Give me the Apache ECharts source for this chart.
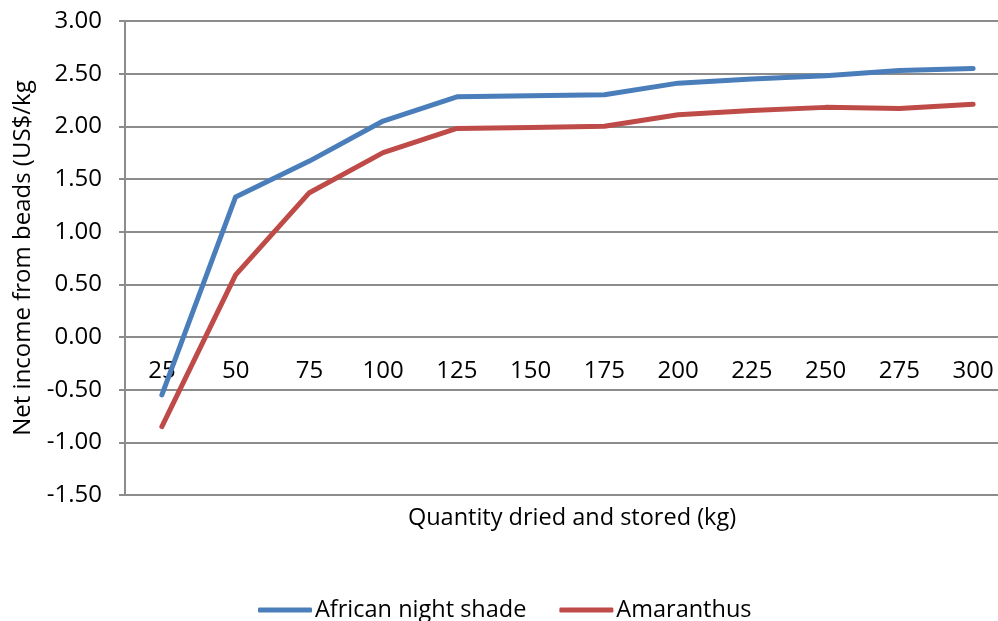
<!DOCTYPE html>
<html>
<head>
<meta charset="utf-8">
<script src="https://cdn.jsdelivr.net/npm/echarts@6/dist/echarts.min.js"></script>
<style>
html,body{margin:0;padding:0;background:#fff;}
#chart{width:998px;height:621px;}
</style>
</head>
<body>
<div id="chart"></div>
<script>
var categories = ['25','50','75','100','125','150','175','200','225','250','275','300'];
var africanNightShade = [-0.55, 1.33, 1.67, 2.05, 2.28, 2.29, 2.30, 2.41, 2.45, 2.48, 2.53, 2.55];
var amaranthus = [-0.85, 0.59, 1.37, 1.75, 1.98, 1.99, 2.00, 2.11, 2.15, 2.18, 2.17, 2.21];
var yTicks = {min: -1.5, max: 3.0, interval: 0.5};
var seriesNames = ['African night shade', 'Amaranthus'];
var xTitle = 'Quantity dried and stored (kg)';
var yTitle = 'Net income from beads (US$/kg';

var FONT = 'Open Sans';
var FS = 24;
var chart = echarts.init(document.getElementById('chart'), null, {renderer: 'canvas'});
chart.setOption({
  animation: false,
  backgroundColor: '#ffffff',
  title: {
    text: xTitle,
    left: 567,
    top: 501,
    textAlign: 'center',
    textStyle: {fontFamily: FONT, fontSize: 23.5, fontWeight: 'normal', color: '#000'}
  },
  legend: {
    left: 253,
    top: 593,
    itemWidth: 54,
    itemHeight: 5,
    itemGap: 33,
    icon: 'roundRect',
    textStyle: {fontFamily: FONT, fontSize: 23.5, color: '#000', padding: [0, 0, 0, -2]},
    data: seriesNames
  },
  grid: {left: 125, width: 885, top: 21, height: 474, containLabel: false, outerBoundsMode: 'none'},
  xAxis: {
    type: 'category',
    data: categories,
    boundaryGap: true,
    offset: -158,
    axisLine: {onZero: false, lineStyle: {color: '#8c8c8c', width: 2}},
    axisTick: {show: false},
    axisLabel: {fontFamily: FONT, fontSize: FS, color: '#000', margin: 22},
    splitLine: {show: false}
  },
  yAxis: {
    type: 'value',
    min: yTicks.min,
    max: yTicks.max,
    interval: yTicks.interval,
    name: yTitle,
    nameLocation: 'middle',
    nameGap: 90,
    nameTextStyle: {fontFamily: FONT, fontSize: FS, color: '#000'},
    axisLine: {show: true, lineStyle: {color: '#8c8c8c', width: 2}},
    axisTick: {show: true, inside: false, length: 6, lineStyle: {color: '#8c8c8c', width: 2}},
    axisLabel: {fontFamily: FONT, fontSize: FS, color: '#000', margin: 23,
      formatter: function (v) { return v.toFixed(2); }},
    splitLine: {show: true, lineStyle: {color: '#8c8c8c', width: 2}}
  },
  series: [
    {name: seriesNames[0], type: 'line', data: africanNightShade, symbol: 'none', z: 3,
     lineStyle: {width: 5, color: '#4a7ebb', cap: 'round', join: 'round'}, itemStyle: {color: '#4a7ebb'}},
    {name: seriesNames[1], type: 'line', data: amaranthus, symbol: 'none', z: 3,
     lineStyle: {width: 5, color: '#be4b48', cap: 'round', join: 'round'}, itemStyle: {color: '#be4b48'}}
  ]
});
</script>
</body>
</html>
